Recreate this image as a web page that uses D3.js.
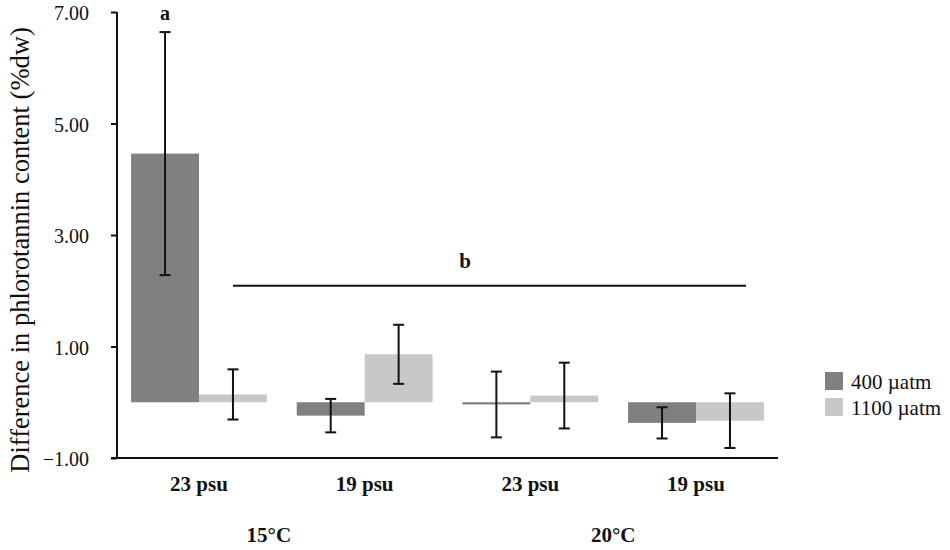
<!DOCTYPE html>
<html>
<head>
<meta charset="utf-8">
<script src="https://cdn.jsdelivr.net/npm/d3@7"></script>
<style>
  body { margin: 0; background: #fff; }
  text { font-family: "Liberation Serif", "Times New Roman", serif; fill: #111; }
</style>
</head>
<body>
<div class="chart"></div>
<script>
// data
const groupIds = ["15-23", "15-19", "20-23", "20-19"];
const groupLabels = ["23 psu", "19 psu", "23 psu", "19 psu"];
const temps = ["15°C", "20°C"];
const series = ["400 µatm", "1100 µatm"];
const means400 = [4.46, -0.24, -0.04, -0.37];
const err400 = [2.18, 0.30, 0.59, 0.28];
const means1100 = [0.14, 0.86, 0.12, -0.33];
const err1100 = [0.45, 0.53, 0.59, 0.49];
const yTicks = [-1, 1, 3, 5, 7];
const sigLetters = ["a", "b"];
const bracketValue = 2.09;

const colors = ["#808080", "#c8c8c8"];
let dims = { height: 550, width: 950 };

let svg = d3.select(".chart").append("svg")
  .attr("width", dims.width)
  .attr("height", dims.height);

const y = d3.scaleLinear().domain([-1, 7]).range([458, 12]);
const x = d3.scaleBand().domain(groupIds).range([117, 778])
  .paddingInner(0.18).paddingOuter(0.085);
const xs = d3.scaleBand().domain(series).range([0, x.bandwidth()]);

// rows for bars
let rows = [];
groupIds.forEach((g, i) => {
  rows.push({ g, s: series[0], m: means400[i], e: err400[i] });
  rows.push({ g, s: series[1], m: means1100[i], e: err1100[i] });
});
const color = d3.scaleOrdinal().domain(series).range(colors);

svg.append("g").selectAll("rect").data(rows).join("rect")
  .attr("x", d => x(d.g) + xs(d.s))
  .attr("width", xs.bandwidth())
  .attr("y", d => y(Math.max(0, d.m)))
  .attr("height", d => Math.max(1.5, Math.abs(y(d.m) - y(0))))
  .attr("fill", d => color(d.s));

// error bars
let eb = svg.append("g").attr("stroke", "#111").attr("stroke-width", 2);
rows.forEach(d => {
  const cx = x(d.g) + xs(d.s) + xs.bandwidth() / 2;
  eb.append("line").attr("x1", cx).attr("x2", cx)
    .attr("y1", y(d.m + d.e)).attr("y2", y(d.m - d.e));
  [d.m + d.e, d.m - d.e].forEach(v => {
    eb.append("line").attr("x1", cx - 5.5).attr("x2", cx + 5.5)
      .attr("y1", y(v)).attr("y2", y(v));
  });
});

// y axis
let yAxis = svg.append("g").attr("transform", "translate(117,0)")
  .call(d3.axisLeft(y).tickValues(yTicks).tickFormat(d3.format(".2f"))
    .tickSize(6).tickPadding(22));
yAxis.select(".domain").attr("stroke", "#111").attr("stroke-width", 2)
  .attr("d", `M0,${y(7)}V${y(-1)}`);
yAxis.selectAll(".tick line").attr("stroke", "#111").attr("stroke-width", 2);
yAxis.selectAll(".tick text")
  .style("font-family", "Liberation Serif").style("font-size", "20px")
  .attr("fill", "#111").attr("dy", "0.38em");

// bottom line
svg.append("line")
  .attr("x1", 111).attr("x2", 778)
  .attr("y1", y(-1)).attr("y2", y(-1))
  .attr("stroke", "#111").attr("stroke-width", 2);

// category labels
svg.append("g").selectAll("text").data(groupIds).join("text")
  .attr("x", d => x(d) + x.bandwidth() / 2)
  .attr("y", 491)
  .attr("text-anchor", "middle")
  .style("font-size", "21px").style("font-weight", "bold")
  .text((d, i) => groupLabels[i]);

svg.append("g").selectAll("text").data(temps).join("text")
  .attr("x", (d, i) => (x(groupIds[i * 2]) + x(groupIds[i * 2 + 1]) + x.bandwidth()) / 2 - (i === 0 ? 13 : 0))
  .attr("y", 542)
  .attr("text-anchor", "middle")
  .style("font-size", "21px").style("font-weight", "bold")
  .text(d => d);

// y title
svg.append("text")
  .attr("transform", "translate(29,250) rotate(-90)")
  .attr("text-anchor", "middle")
  .style("font-size", "26.5px")
  .text("Difference in phlorotannin content (%dw)");

// significance
const aX = x(groupIds[0]) + xs(series[0]) + xs.bandwidth() / 2;
svg.append("text")
  .attr("x", aX).attr("y", y(means400[0] + err400[0]) - 12)
  .attr("text-anchor", "middle")
  .style("font-size", "20px").style("font-weight", "bold")
  .text(sigLetters[0]);

const bx1 = x(groupIds[0]) + xs(series[1]) + xs.bandwidth() / 2;
const bx2 = x(groupIds[3]) + x.bandwidth() - 18;
svg.append("line")
  .attr("x1", bx1).attr("x2", bx2)
  .attr("y1", y(bracketValue)).attr("y2", y(bracketValue))
  .attr("stroke", "#111").attr("stroke-width", 2);
svg.append("text")
  .attr("x", 465).attr("y", y(bracketValue) - 18)
  .attr("text-anchor", "middle")
  .style("font-size", "21px").style("font-weight", "bold")
  .text(sigLetters[1]);

// legend
let legend = svg.append("g").attr("transform", "translate(825,372)");
series.forEach((s, i) => {
  legend.append("rect").attr("x", 0).attr("y", i * 26)
    .attr("width", 18).attr("height", 18).attr("fill", color(s));
  legend.append("text").attr("x", 26).attr("y", i * 26 + 17)
    .style("font-size", "21px").text(s);
});
</script>
</body>
</html>
